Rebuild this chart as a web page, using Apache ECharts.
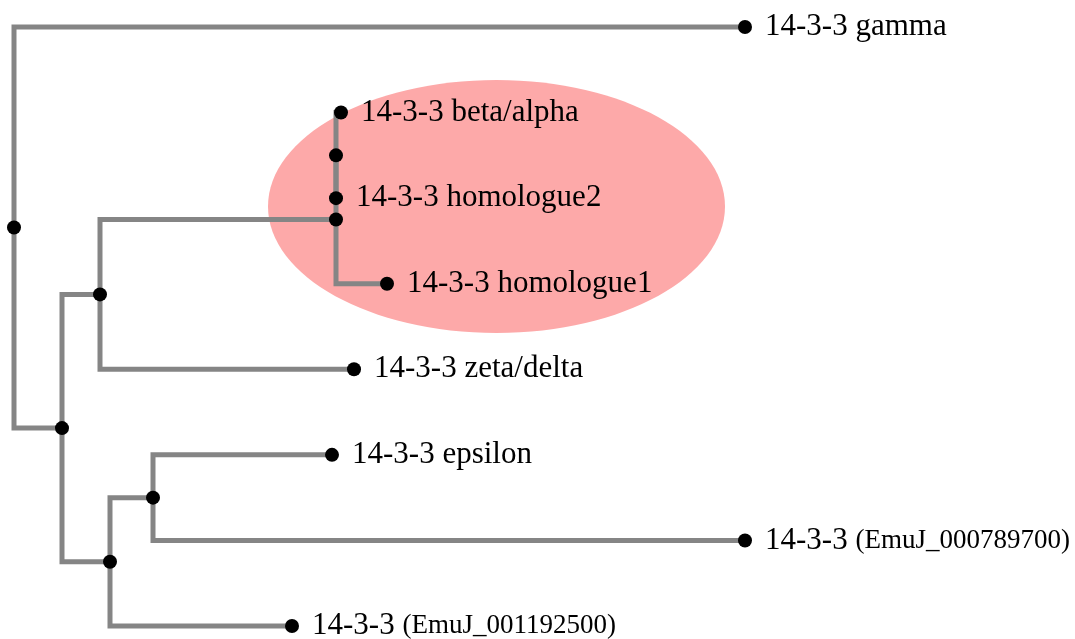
<!DOCTYPE html>
<html>
<head>
<meta charset="utf-8">
<title>14-3-3 tree</title>
<script src="https://cdn.jsdelivr.net/npm/echarts@6/dist/echarts.min.js"></script>
<style>
  html, body { margin: 0; padding: 0; background: #fff; }
  #chart_tree { width: 1075px; height: 639px; }
</style>
</head>
<body>
<div id="chart_tree"></div>
<script>
// tree nodes: 0 root, 1-6 inner nodes, 7-14 leaves
var nodeParent = [-1, 0, 1, 2, 3, 1, 5, 0, 4, 4, 3, 2, 6, 6, 5]
// distance from root (branch length units)
var nodeDepth = [0, 0.048, 0.086, 0.322, 0.322, 0.096, 0.139,
  0.731, 0.327, 0.322, 0.373, 0.340, 0.318, 0.731, 0.278]
// leaf order top to bottom (row), -1 for inner nodes
var leafRow = [-1, -1, -1, -1, -1, -1, -1, 0, 1, 2, 3, 4, 5, 6, 7]
var leafName = ['', '', '', '', '', '', '',
  '14-3-3 gamma', '14-3-3 beta/alpha', '14-3-3 homologue2', '14-3-3 homologue1',
  '14-3-3 zeta/delta', '14-3-3 epsilon', '14-3-3 (EmuJ_000789700)', '14-3-3 (EmuJ_001192500)']
// highlighted clade: centre depth, centre row, half width, half height
var highlight = [0.4825, 2.097, 0.2285, 1.478]

// inner node row = middle of its outer children
function rowOf (i) {
  if (leafRow[i] >= 0) return leafRow[i]
  var rows = []
  for (var k = 0; k < nodeParent.length; k++) {
    if (nodeParent[k] === i) rows.push(rowOf(k))
  }
  return (Math.min.apply(null, rows) + Math.max.apply(null, rows)) / 2
}
var nodeRow = nodeParent.map(function (p, i) { return rowOf(i) })

var branchData = []
var pointData = []
for (var i = 0; i < nodeParent.length; i++) {
  var p = nodeParent[i]
  if (p >= 0) {
    branchData.push([nodeDepth[p], nodeRow[p], nodeDepth[i], nodeRow[i]])
  }
  var name = leafName[i]
  var m = name.match(/^(.*?) (\(.*\))$/)
  pointData.push({
    value: [nodeDepth[i], nodeRow[i]],
    label: {
      show: name !== '',
      formatter: m ? '{a|' + m[1] + ' }{b|' + m[2] + '}' : '{a|' + name + '}'
    }
  })
}

var chartTree = echarts.init(document.getElementById('chart_tree'))
chartTree.setOption({
  animation: false,
  grid: { left: 14, right: 330, top: 27, bottom: 13 },
  xAxis: { type: 'value', min: 0, max: 0.731, show: false },
  yAxis: { type: 'value', min: 0, max: 7, inverse: true, show: false },
  series: [
    {
      type: 'custom',
      z: 1,
      data: [highlight],
      encode: { x: 0, y: 1 },
      renderItem: function (params, api) {
        var c = api.coord([api.value(0), api.value(1)])
        var s = api.size([api.value(2), api.value(3)])
        return {
          type: 'ellipse',
          shape: { cx: c[0], cy: c[1], rx: s[0], ry: s[1] },
          style: { fill: '#fda9a9' }
        }
      }
    },
    {
      type: 'custom',
      z: 2,
      data: branchData,
      encode: { x: [0, 2], y: [1, 3] },
      renderItem: function (params, api) {
        var a = api.coord([api.value(0), api.value(1)])
        var b = api.coord([api.value(2), api.value(3)])
        return {
          type: 'polyline',
          shape: { points: [a, [a[0], b[1]], b] },
          style: { stroke: '#858585', lineWidth: 5, fill: null, lineJoin: 'miter' }
        }
      }
    },
    {
      type: 'scatter',
      z: 3,
      symbol: 'circle',
      symbolSize: 14,
      itemStyle: { color: '#000', opacity: 1 },
      data: pointData,
      label: {
        position: 'right',
        distance: 13,
        color: '#000',
        rich: {
          a: { fontFamily: 'Liberation Serif', fontSize: 31, color: '#000' },
          b: { fontFamily: 'Liberation Serif', fontSize: 27, color: '#000' }
        }
      }
    }
  ]
})
</script>
</body>
</html>
